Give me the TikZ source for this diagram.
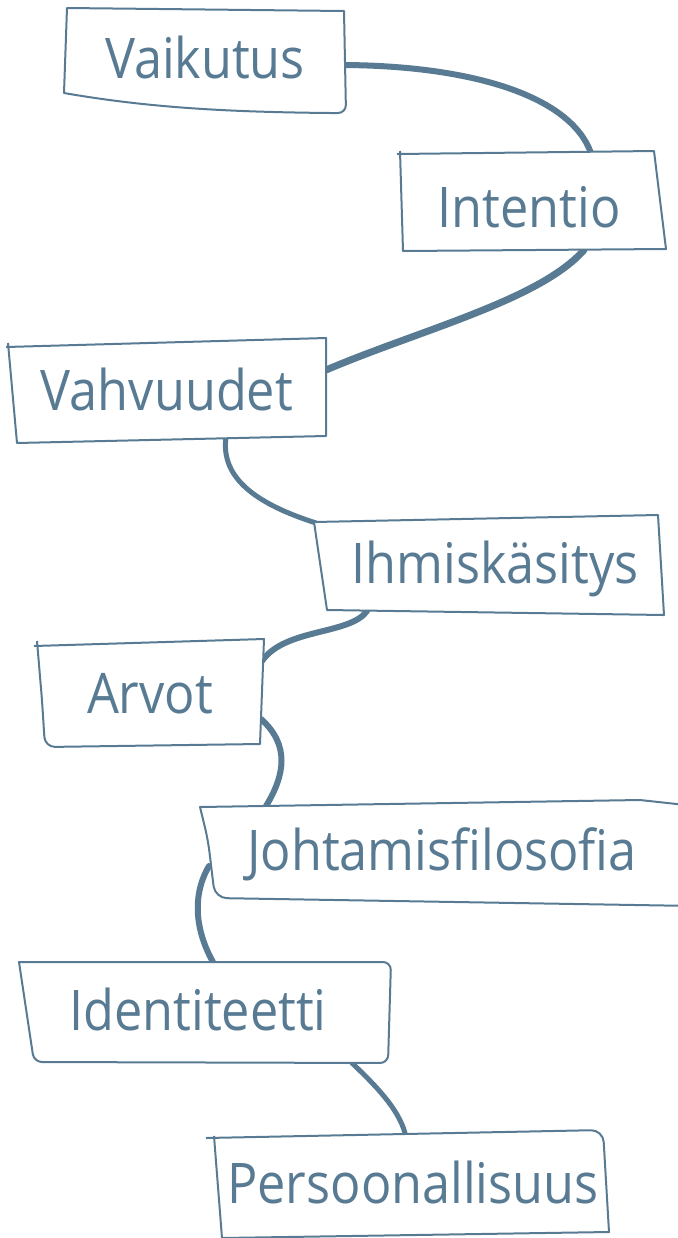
\documentclass[tikz,border=0pt]{standalone}
\usepackage{fontspec}
\setmainfont{Open Sans}[FakeStretch=0.9]
\usepackage{tikz}
\definecolor{slate}{HTML}{587B93}
\tikzset{
  boxline/.style={draw=slate, line width=1pt, fill=white, line join=round},
  link/.style={draw=slate, line width=2.5pt, line cap=round},
  lbl/.style={text=slate, font=\fontsize{28}{30}\selectfont, anchor=base, inner sep=0pt}
}

\begin{document}
\begin{tikzpicture}[x=0.5pt, y=-0.5pt]
		%%%%% START %%%%%
		\clip (0,0) rectangle (678,1238);
		
		\coordinate (vaik-e) at (345,65);
		\coordinate (int-n) at (591,153);
		\coordinate (int-s) at (584,250);
		\coordinate (vahv-e) at (326,370);
		\coordinate (vahv-s) at (226,437);
		\coordinate (ihm-w) at (316,523);
		\coordinate (ihm-s) at (367,611);
		\coordinate (arv-ne) at (262,661);
		\coordinate (arv-se) at (261,719);
		\coordinate (joh-n) at (266,806);
		\coordinate (joh-w) at (209,866);
		\coordinate (ident-n) at (213,962);
		\coordinate (ident-s) at (352,1063);
		\coordinate (pers-n) at (405,1133);
		
		% links
		\draw[link, line width=3pt] (vaik-e) .. controls (470,66) and (570,95) .. (int-n);
		\draw[link, line width=3.5pt] (int-s) .. controls (540,300) and (420,330) .. (vahv-e);
		\draw[link] (vahv-s) .. controls (220,480) and (260,505) .. (ihm-w);
		\draw[link, line width=3pt] (ihm-s) .. controls (350,635) and (285,628) .. (arv-ne);
		\draw[link, line width=3pt] (arv-se) .. controls (290,745) and (285,775) .. (joh-n);
		\draw[link, line width=3pt] (joh-w) .. controls (192,895) and (195,930) .. (ident-n);
		\draw[link] (ident-s) .. controls (375,1085) and (398,1108) .. (pers-n);
		
		% boxes
		\draw[boxline] (67,8) -- (344,11) [rounded corners=4pt] -- (346,113) [sharp corners] -- (330,113) .. controls (230,112) and (150,108) .. (64,93) -- cycle;
		\draw[boxline] (397,154) -- (654,151) -- (666,249) -- (403,251) -- (400,151);
		\draw[boxline] (6,347) -- (326,338) -- (326,436) -- (17,443) -- (8,343);
		\draw[boxline] (314,522) -- (658,515) -- (664,615) -- (327,610) -- cycle;
		\draw[boxline] (34,646) -- (264,639) -- (260,744) [rounded corners=5pt] -- (45,747) -- (42,700) [sharp corners] -- (37,641);
		\draw[boxline] (200,807) -- (640,800) [rounded corners=8pt] -- (695,806) [sharp corners] -- (695,906) [rounded corners=6pt] -- (215,898) -- (208,840) [sharp corners] -- cycle;
		\draw[boxline] (19,962) [rounded corners=4pt] -- (391,962) -- (388,1063) -- (34,1062) [sharp corners] -- cycle;
		\draw[boxline] (206,1138) [rounded corners=6pt] -- (603,1130) [sharp corners] -- (609,1232) -- (222,1238) -- (214,1136);
		
		% labels
		\node[lbl] (vaikutus) at (205,78) {Vaikutus};
		\node[lbl] (intentio) at (529,227) {Intentio};
		\node[lbl] (vahvuudet) at (167,410) {Vahvuudet};
		\node[lbl] (ihmiskasitys) at (495,583) {Ihmiskäsitys};
		\node[lbl] (arvot) at (150,713) {Arvot};
		\node[lbl] (johtamis) at (442,870) {Johtamisfilosofia};
		\node[lbl] (identiteetti) at (198,1030) {Identiteetti};
		\node[lbl] (persoonallisuus) at (413,1203) {Persoonallisuus};
		
		%%%%% END %%%%%
\end{tikzpicture}
\end{document}
